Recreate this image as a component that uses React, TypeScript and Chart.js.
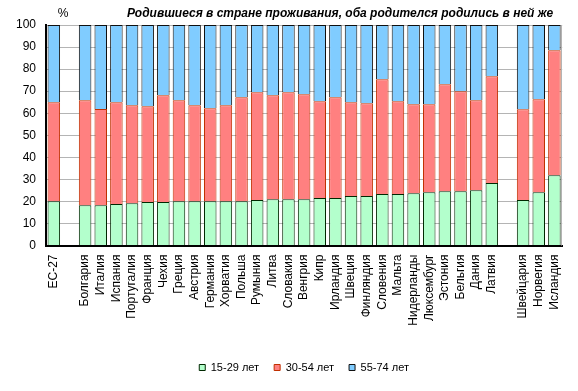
import React, { useEffect, useRef } from "react";
import { Chart, registerables } from "chart.js";

Chart.register(...registerables);

const categories = [
  "ЕС-27", "",
  "Болгария", "Италия", "Испания", "Португалия", "Франция", "Чехия", "Греция", "Австрия",
  "Германия", "Хорватия", "Польша", "Румыния", "Литва", "Словакия", "Венгрия", "Кипр",
  "Ирландия", "Швеция", "Финляндия", "Словения", "Мальта", "Нидерланды", "Люксембург",
  "Эстония", "Бельгия", "Дания", "Латвия", "",
  "Швейцария", "Норвегия", "Исландия",
];

const age15_29 = [
  20.1, null,
  18.3, 18.3, 18.8, 19.2, 19.7, 19.7, 20.1, 20.1, 20.1, 20.1, 20.1, 20.6, 21.0, 21.0, 21.0, 21.5,
  21.5, 22.4, 22.4, 23.3, 23.3, 23.7, 24.2, 24.6, 24.6, 25.1, 28.3, null,
  20.6, 24.2, 31.9,
];

const age30_54 = [
  44.9, null,
  47.6, 43.6, 46.2, 44.4, 43.5, 48.4, 45.8, 43.5, 42.2, 43.5, 47.1, 48.9, 47.1, 48.5, 47.6, 43.9,
  45.7, 42.6, 42.1, 52.1, 42.1, 40.4, 39.9, 48.5, 45.4, 40.8, 48.5, null,
  41.2, 42.1, 56.6,
];

const age55_74 = [
  35.0, null,
  34.1, 38.1, 35.0, 36.4, 36.8, 31.9, 34.1, 36.4, 37.7, 36.4, 32.8, 30.5, 31.9, 30.5, 31.4, 34.6,
  32.8, 35.0, 35.5, 24.6, 34.6, 35.9, 35.9, 26.9, 30.0, 34.1, 23.2, null,
  38.2, 33.7, 11.5,
];

const seriesNames = ["15-29 лет", "30-54 лет", "55-74 лет"];
const titleText = "Родившиеся в стране проживания, оба родителся родились в ней же";
const unitText = "%";

const FONT = '"Liberation Sans", Arial, sans-serif';

const decorPlugin = {
  id: "decor",
  beforeDatasetsDraw(chart: any) {
    const { ctx, chartArea } = chart;
    ctx.save();
    ctx.strokeStyle = "#b4b4b4";
    ctx.lineWidth = 1;
    ctx.beginPath();
    ctx.moveTo(Math.round(chartArea.right) - 0.5, chartArea.top);
    ctx.lineTo(Math.round(chartArea.right) - 0.5, chartArea.bottom);
    ctx.stroke();
    ctx.restore();
  },
  afterDraw(chart: any) {
    const { ctx } = chart;
    ctx.save();
    ctx.fillStyle = "#000";
    ctx.textBaseline = "middle";
    ctx.font = `bold italic 12px ${FONT}`;
    ctx.textAlign = "left";
    ctx.fillText(titleText, 127, 14);
    ctx.font = `12px ${FONT}`;
    ctx.textAlign = "center";
    ctx.fillText(unitText, 63, 14);
    ctx.restore();
  },
};

export default function App() {
  const ref = useRef<HTMLCanvasElement | null>(null);
  useEffect(() => {
    if (!ref.current) return;
    const chart = new Chart(ref.current, {
      type: "bar",
      data: {
        labels: categories,
        datasets: [
          {
            label: seriesNames[0],
            data: age15_29,
            backgroundColor: "#b3ffcc",
            borderColor: "#002800",
            borderWidth: 1,
          },
          {
            label: seriesNames[1],
            data: age30_54,
            backgroundColor: "#ff8080",
            borderColor: "#c03000",
            borderWidth: 1,
          },
          {
            label: seriesNames[2],
            data: age55_74,
            backgroundColor: "#80ccff",
            borderColor: "#101010",
            borderWidth: 1,
          },
        ] as any,
      },
      options: {
        animation: false,
        responsive: false,
        maintainAspectRatio: false,
        devicePixelRatio: 1,
        datasets: { bar: { categoryPercentage: 1, barPercentage: 0.8 } },
        layout: { padding: { left: 0, right: 14, top: 25, bottom: 8 } },
        plugins: {
          title: { display: false },
          tooltip: { enabled: false },
          legend: {
            position: "bottom",
            fullSize: false,
            labels: {
              boxWidth: 6,
              boxHeight: 6,
              padding: 15,
              color: "#000",
              font: { family: FONT, size: 11 },
            },
          },
        },
        scales: {
          x: {
            stacked: true,
            grid: { display: false, drawTicks: false },
            border: { display: true, color: "#000", width: 2 },
            ticks: {
              autoSkip: false,
              minRotation: 90,
              maxRotation: 90,
              padding: 9,
              color: "#000",
              font: { family: FONT, size: 12 },
            },
            afterFit(scale: any) {
              scale.height = 101.5;
            },
          },
          y: {
            stacked: true,
            min: 0,
            max: 100,
            ticks: {
              stepSize: 10,
              padding: 10,
              color: "#000",
              font: { family: FONT, size: 12 },
            },
            grid: { color: "#b4b4b4", drawTicks: false },
            border: { display: true, color: "#000", width: 2 },
            afterFit(scale: any) {
              scale.width = 46;
            },
          },
        },
      },
      plugins: [decorPlugin],
    });
    return () => chart.destroy();
  }, []);
  return (
    <div style={{ position: "absolute", left: 0, top: 0, width: 578, height: 391, background: "#fff" }}>
      <canvas ref={ref} width={578} height={391} style={{ width: 578, height: 391 }} />
    </div>
  );
}
